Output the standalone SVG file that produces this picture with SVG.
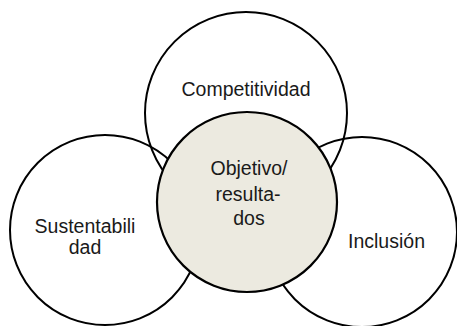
<svg xmlns="http://www.w3.org/2000/svg" width="457" height="326" viewBox="0 0 457 326">
  <style>
    .ring { fill: none; stroke: #000; stroke-width: 2; }
    .core { fill: #ECEAE0; stroke: #000; stroke-width: 2.2; }
    .lbl { font-family: "Liberation Sans", Arial, sans-serif; font-size: 19.5px; fill: #1a1a1a; text-anchor: middle; }
  </style>
  <rect width="457" height="326" fill="#fff"/>
  <g id="competitividad">
    <circle class="ring" cx="246" cy="113" r="101"/>
    <text class="lbl" x="246" y="96">Competitividad</text>
  </g>
  <g id="sustentabilidad">
    <circle class="ring" cx="105" cy="230" r="95"/>
    <text class="lbl" x="85" y="233">Sustentabili</text>
    <text class="lbl" x="85" y="254">dad</text>
  </g>
  <g id="inclusion">
    <circle class="ring" cx="362" cy="232" r="95"/>
    <text class="lbl" x="386.5" y="248">Inclusión</text>
  </g>
  <g id="objetivo">
    <circle class="core" cx="247" cy="202" r="90"/>
    <text class="lbl" x="249" y="175">Objetivo/</text>
    <text class="lbl" x="248" y="201">resulta-</text>
    <text class="lbl" x="249" y="225">dos</text>
  </g>
</svg>
